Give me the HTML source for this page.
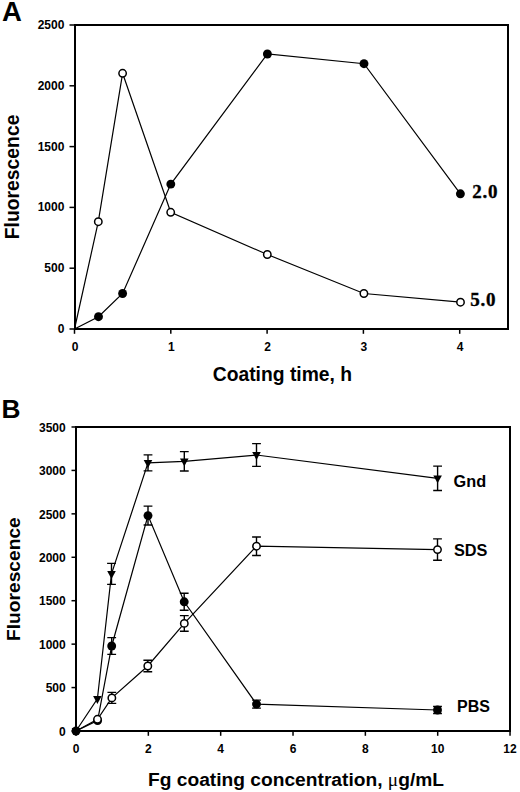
<!DOCTYPE html><html><head><meta charset="utf-8"><style>html,body{margin:0;padding:0;background:#fff;}svg{display:block}</style></head><body>
<svg width="520" height="792" viewBox="0 0 520 792">
<rect width="520" height="792" fill="#fff"/>
<text x="2.0" y="20.6" font-family='"Liberation Sans", sans-serif' font-size="27.5" font-weight="bold" text-anchor="start" >A</text>
<rect x="75" y="25" width="433" height="304" stroke="#000" stroke-width="2" fill="none"/>
<line x1="69.5" y1="329.00" x2="75" y2="329.00" stroke="#000" stroke-width="1.5"/>
<text x="64.4" y="333.0" font-family='"Liberation Sans", sans-serif' font-size="12" font-weight="bold" text-anchor="end" >0</text>
<line x1="69.5" y1="268.20" x2="75" y2="268.20" stroke="#000" stroke-width="1.5"/>
<text x="64.4" y="272.2" font-family='"Liberation Sans", sans-serif' font-size="12" font-weight="bold" text-anchor="end" >500</text>
<line x1="69.5" y1="207.40" x2="75" y2="207.40" stroke="#000" stroke-width="1.5"/>
<text x="64.4" y="211.4" font-family='"Liberation Sans", sans-serif' font-size="12" font-weight="bold" text-anchor="end" >1000</text>
<line x1="69.5" y1="146.60" x2="75" y2="146.60" stroke="#000" stroke-width="1.5"/>
<text x="64.4" y="150.6" font-family='"Liberation Sans", sans-serif' font-size="12" font-weight="bold" text-anchor="end" >1500</text>
<line x1="69.5" y1="85.80" x2="75" y2="85.80" stroke="#000" stroke-width="1.5"/>
<text x="64.4" y="89.80000000000001" font-family='"Liberation Sans", sans-serif' font-size="12" font-weight="bold" text-anchor="end" >2000</text>
<line x1="69.5" y1="25.00" x2="75" y2="25.00" stroke="#000" stroke-width="1.5"/>
<text x="64.4" y="29.0" font-family='"Liberation Sans", sans-serif' font-size="12" font-weight="bold" text-anchor="end" >2500</text>
<line x1="74.50" y1="329" x2="74.50" y2="333.8" stroke="#000" stroke-width="1.5"/>
<text x="75.0" y="350.6" font-family='"Liberation Sans", sans-serif' font-size="12" font-weight="bold" text-anchor="middle" >0</text>
<line x1="170.80" y1="329" x2="170.80" y2="333.8" stroke="#000" stroke-width="1.5"/>
<text x="171.3" y="350.6" font-family='"Liberation Sans", sans-serif' font-size="12" font-weight="bold" text-anchor="middle" >1</text>
<line x1="267.10" y1="329" x2="267.10" y2="333.8" stroke="#000" stroke-width="1.5"/>
<text x="267.6" y="350.6" font-family='"Liberation Sans", sans-serif' font-size="12" font-weight="bold" text-anchor="middle" >2</text>
<line x1="363.40" y1="329" x2="363.40" y2="333.8" stroke="#000" stroke-width="1.5"/>
<text x="363.9" y="350.6" font-family='"Liberation Sans", sans-serif' font-size="12" font-weight="bold" text-anchor="middle" >3</text>
<line x1="459.70" y1="329" x2="459.70" y2="333.8" stroke="#000" stroke-width="1.5"/>
<text x="460.2" y="350.6" font-family='"Liberation Sans", sans-serif' font-size="12" font-weight="bold" text-anchor="middle" >4</text>
<text x="282.4" y="381.3" font-family='"Liberation Sans", sans-serif' font-size="19.3" font-weight="bold" text-anchor="middle" >Coating time, h</text>
<text x="0" y="0" font-family='"Liberation Sans", sans-serif' font-size="19.35" font-weight="bold" text-anchor="middle" transform="translate(18.9 176.9) rotate(-90)">Fluorescence</text>
<polyline points="74.5,329 98.5,316.7 122.6,293.5 170.8,184.1 267.4,54 364,63.7 460.4,193.8" fill="none" stroke="#000" stroke-width="1.2" stroke-linejoin="miter"/>
<polyline points="74.5,329 98.3,221.7 122.6,73.3 170.7,212.3 267.3,254.5 363.9,293.5 460.5,302.2" fill="none" stroke="#000" stroke-width="1.2" stroke-linejoin="miter"/>
<circle cx="98.5" cy="316.7" r="4.45" fill="#000"/>
<circle cx="122.6" cy="293.5" r="4.45" fill="#000"/>
<circle cx="170.8" cy="184.1" r="4.45" fill="#000"/>
<circle cx="267.4" cy="54" r="4.45" fill="#000"/>
<circle cx="364" cy="63.7" r="4.45" fill="#000"/>
<circle cx="460.4" cy="193.8" r="4.45" fill="#000"/>
<circle cx="98.3" cy="221.7" r="3.7" fill="#fff" stroke="#000" stroke-width="1.5"/>
<circle cx="122.6" cy="73.3" r="3.7" fill="#fff" stroke="#000" stroke-width="1.5"/>
<circle cx="170.7" cy="212.3" r="3.7" fill="#fff" stroke="#000" stroke-width="1.5"/>
<circle cx="267.3" cy="254.5" r="3.7" fill="#fff" stroke="#000" stroke-width="1.5"/>
<circle cx="363.9" cy="293.5" r="3.7" fill="#fff" stroke="#000" stroke-width="1.5"/>
<circle cx="460.5" cy="302.2" r="3.7" fill="#fff" stroke="#000" stroke-width="1.5"/>
<text x="472.2" y="197.8" font-family='"Liberation Serif", serif' font-size="19" font-weight="bold" text-anchor="start" letter-spacing="0.8" stroke="#000" stroke-width="0.35">2.0</text>
<text x="470.2" y="305.6" font-family='"Liberation Serif", serif' font-size="19" font-weight="bold" text-anchor="start" letter-spacing="0.8" stroke="#000" stroke-width="0.35">5.0</text>
<text x="1.6" y="417.9" font-family='"Liberation Sans", sans-serif' font-size="26.3" font-weight="bold" text-anchor="start" >B</text>
<rect x="76" y="427" width="434" height="304" stroke="#000" stroke-width="2" fill="none"/>
<line x1="71.5" y1="731.00" x2="76" y2="731.00" stroke="#000" stroke-width="1.5"/>
<text x="65.7" y="735.7" font-family='"Liberation Sans", sans-serif' font-size="12" font-weight="bold" text-anchor="end" >0</text>
<line x1="71.5" y1="687.57" x2="76" y2="687.57" stroke="#000" stroke-width="1.5"/>
<text x="65.7" y="692.27" font-family='"Liberation Sans", sans-serif' font-size="12" font-weight="bold" text-anchor="end" >500</text>
<line x1="71.5" y1="644.14" x2="76" y2="644.14" stroke="#000" stroke-width="1.5"/>
<text x="65.7" y="648.84" font-family='"Liberation Sans", sans-serif' font-size="12" font-weight="bold" text-anchor="end" >1000</text>
<line x1="71.5" y1="600.71" x2="76" y2="600.71" stroke="#000" stroke-width="1.5"/>
<text x="65.7" y="605.4100000000001" font-family='"Liberation Sans", sans-serif' font-size="12" font-weight="bold" text-anchor="end" >1500</text>
<line x1="71.5" y1="557.28" x2="76" y2="557.28" stroke="#000" stroke-width="1.5"/>
<text x="65.7" y="561.98" font-family='"Liberation Sans", sans-serif' font-size="12" font-weight="bold" text-anchor="end" >2000</text>
<line x1="71.5" y1="513.85" x2="76" y2="513.85" stroke="#000" stroke-width="1.5"/>
<text x="65.7" y="518.5500000000001" font-family='"Liberation Sans", sans-serif' font-size="12" font-weight="bold" text-anchor="end" >2500</text>
<line x1="71.5" y1="470.42" x2="76" y2="470.42" stroke="#000" stroke-width="1.5"/>
<text x="65.7" y="475.11999999999995" font-family='"Liberation Sans", sans-serif' font-size="12" font-weight="bold" text-anchor="end" >3000</text>
<line x1="71.5" y1="426.99" x2="76" y2="426.99" stroke="#000" stroke-width="1.5"/>
<text x="65.7" y="431.68999999999994" font-family='"Liberation Sans", sans-serif' font-size="12" font-weight="bold" text-anchor="end" >3500</text>
<line x1="76.00" y1="731" x2="76.00" y2="735.8" stroke="#000" stroke-width="1.5"/>
<text x="76.0" y="752.8" font-family='"Liberation Sans", sans-serif' font-size="12" font-weight="bold" text-anchor="middle" >0</text>
<line x1="148.34" y1="731" x2="148.34" y2="735.8" stroke="#000" stroke-width="1.5"/>
<text x="148.34" y="752.8" font-family='"Liberation Sans", sans-serif' font-size="12" font-weight="bold" text-anchor="middle" >2</text>
<line x1="220.68" y1="731" x2="220.68" y2="735.8" stroke="#000" stroke-width="1.5"/>
<text x="220.68" y="752.8" font-family='"Liberation Sans", sans-serif' font-size="12" font-weight="bold" text-anchor="middle" >4</text>
<line x1="293.02" y1="731" x2="293.02" y2="735.8" stroke="#000" stroke-width="1.5"/>
<text x="293.02" y="752.8" font-family='"Liberation Sans", sans-serif' font-size="12" font-weight="bold" text-anchor="middle" >6</text>
<line x1="365.36" y1="731" x2="365.36" y2="735.8" stroke="#000" stroke-width="1.5"/>
<text x="365.36" y="752.8" font-family='"Liberation Sans", sans-serif' font-size="12" font-weight="bold" text-anchor="middle" >8</text>
<line x1="437.70" y1="731" x2="437.70" y2="735.8" stroke="#000" stroke-width="1.5"/>
<text x="437.70000000000005" y="752.8" font-family='"Liberation Sans", sans-serif' font-size="12" font-weight="bold" text-anchor="middle" >10</text>
<line x1="510.04" y1="731" x2="510.04" y2="735.8" stroke="#000" stroke-width="1.5"/>
<text x="510.04" y="752.8" font-family='"Liberation Sans", sans-serif' font-size="12" font-weight="bold" text-anchor="middle" >12</text>
<text x="148" y="785.8" font-family='"Liberation Sans", sans-serif' font-size="19.2" font-weight="bold">Fg coating concentration, <tspan font-family='"Liberation Serif", serif' font-weight="normal">μ</tspan>g/mL</text>
<text x="0" y="0" font-family='"Liberation Sans", sans-serif' font-size="19.2" font-weight="bold" text-anchor="middle" transform="translate(20.0 579.1) rotate(-90)">Fluorescence</text>
<polyline points="76,731 97.4,698.9 111.5,573.9 148.0,462.9 184.3,461.3 256.5,455 437.6,478.3" fill="none" stroke="#000" stroke-width="1.2" stroke-linejoin="miter"/>
<polyline points="76,731 97.6,720.6 111.7,646 148,515.6 184.2,601.8 256.5,704.1 437.5,710" fill="none" stroke="#000" stroke-width="1.2" stroke-linejoin="miter"/>
<polyline points="76,731 97.5,719.3 111.85,697.9 147.8,666 184.3,623.4 256.5,546.2 437.5,549.6" fill="none" stroke="#000" stroke-width="1.2" stroke-linejoin="miter"/>
<path d="M111.5 563.4V584.4M107.1 563.4H115.9M107.1 584.4H115.9" stroke="#000" stroke-width="1.4" fill="none"/>
<path d="M148.0 454.9V470.9M143.6 454.9H152.4M143.6 470.9H152.4" stroke="#000" stroke-width="1.4" fill="none"/>
<path d="M184.3 451.6V471.0M179.9 451.6H188.70000000000002M179.9 471.0H188.70000000000002" stroke="#000" stroke-width="1.4" fill="none"/>
<path d="M256.5 443.65V466.35M252.1 443.65H260.9M252.1 466.35H260.9" stroke="#000" stroke-width="1.4" fill="none"/>
<path d="M437.6 466.1V490.5M433.20000000000005 466.1H442.0M433.20000000000005 490.5H442.0" stroke="#000" stroke-width="1.4" fill="none"/>
<path d="M111.7 637.65V654.35M107.3 637.65H116.10000000000001M107.3 654.35H116.10000000000001" stroke="#000" stroke-width="1.4" fill="none"/>
<path d="M148 506.15000000000003V525.0500000000001M143.6 506.15000000000003H152.4M143.6 525.0500000000001H152.4" stroke="#000" stroke-width="1.4" fill="none"/>
<path d="M184.2 593.3V610.3M179.79999999999998 593.3H188.6M179.79999999999998 610.3H188.6" stroke="#000" stroke-width="1.4" fill="none"/>
<path d="M256.5 700.1V708.1M252.1 700.1H260.9M252.1 708.1H260.9" stroke="#000" stroke-width="1.4" fill="none"/>
<path d="M437.5 706.5V713.5M433.1 706.5H441.9M433.1 713.5H441.9" stroke="#000" stroke-width="1.4" fill="none"/>
<path d="M111.85 692.4V703.4M107.44999999999999 692.4H116.25M107.44999999999999 703.4H116.25" stroke="#000" stroke-width="1.4" fill="none"/>
<path d="M147.8 660.3V671.7M143.4 660.3H152.20000000000002M143.4 671.7H152.20000000000002" stroke="#000" stroke-width="1.4" fill="none"/>
<path d="M184.3 615.6V631.1999999999999M179.9 615.6H188.70000000000002M179.9 631.1999999999999H188.70000000000002" stroke="#000" stroke-width="1.4" fill="none"/>
<path d="M256.5 536.95V555.45M252.1 536.95H260.9M252.1 555.45H260.9" stroke="#000" stroke-width="1.4" fill="none"/>
<path d="M437.5 538.9V560.3000000000001M433.1 538.9H441.9M433.1 560.3000000000001H441.9" stroke="#000" stroke-width="1.4" fill="none"/>
<circle cx="76" cy="731" r="4.45" fill="#000"/>
<circle cx="97.6" cy="720.6" r="4.45" fill="#000"/>
<circle cx="111.7" cy="646" r="4.45" fill="#000"/>
<circle cx="148" cy="515.6" r="4.45" fill="#000"/>
<circle cx="184.2" cy="601.8" r="4.45" fill="#000"/>
<circle cx="256.5" cy="704.1" r="4.45" fill="#000"/>
<circle cx="437.5" cy="710" r="4.45" fill="#000"/>
<path d="M71.70 728.10H80.30L76 736.00Z" fill="#000"/>
<path d="M93.10 696.00H101.70L97.4 703.90Z" fill="#000"/>
<path d="M107.20 571.00H115.80L111.5 578.90Z" fill="#000"/>
<path d="M143.70 460.00H152.30L148.0 467.90Z" fill="#000"/>
<path d="M180.00 458.40H188.60L184.3 466.30Z" fill="#000"/>
<path d="M252.20 452.10H260.80L256.5 460.00Z" fill="#000"/>
<path d="M433.30 475.40H441.90L437.6 483.30Z" fill="#000"/>
<circle cx="97.5" cy="719.3" r="3.7" fill="#fff" stroke="#000" stroke-width="1.5"/>
<circle cx="111.85" cy="697.9" r="3.7" fill="#fff" stroke="#000" stroke-width="1.5"/>
<circle cx="147.8" cy="666" r="3.7" fill="#fff" stroke="#000" stroke-width="1.5"/>
<circle cx="184.3" cy="623.4" r="3.7" fill="#fff" stroke="#000" stroke-width="1.5"/>
<circle cx="256.5" cy="546.2" r="3.7" fill="#fff" stroke="#000" stroke-width="1.5"/>
<circle cx="437.5" cy="549.6" r="3.7" fill="#fff" stroke="#000" stroke-width="1.5"/>
<text x="453.6" y="486.5" font-family='"Liberation Sans", sans-serif' font-size="16.3" font-weight="bold" text-anchor="start" >Gnd</text>
<text x="454.0" y="555.6" font-family='"Liberation Sans", sans-serif' font-size="16.3" font-weight="bold" text-anchor="start" >SDS</text>
<text x="457.0" y="712.4" font-family='"Liberation Sans", sans-serif' font-size="16" font-weight="bold" text-anchor="start" >PBS</text>
</svg></body></html>
